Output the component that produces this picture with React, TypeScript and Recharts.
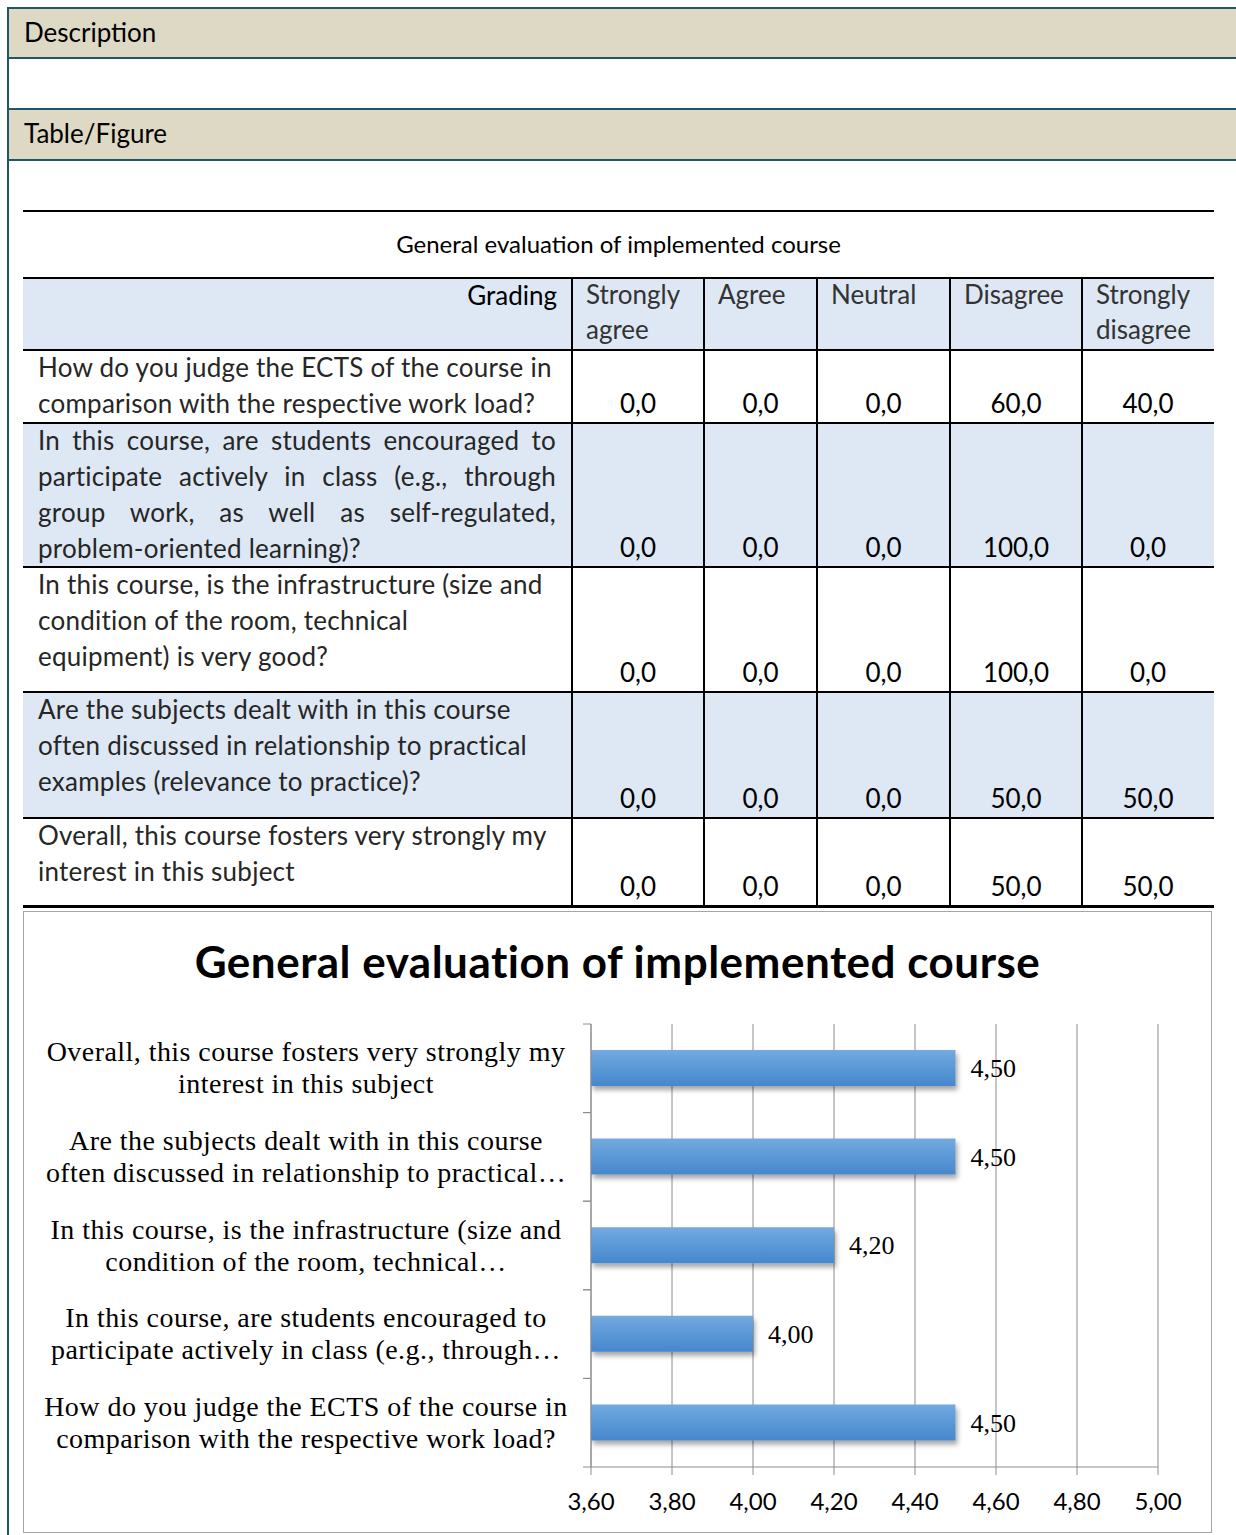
import React from "react";
import { BarChart, Bar, XAxis, YAxis, CartesianGrid, LabelList } from "recharts";

// table data
const gradingHeaders = [["Strongly", "agree"], ["Agree"], ["Neutral"], ["Disagree"], ["Strongly", "disagree"]];

const questionLines = [
  ["How do you judge the ECTS of the course in", "comparison with the respective work load?"],
  [
    "In this course, are students encouraged to",
    "participate actively in class (e.g., through",
    "group work, as well as self-regulated,",
    "problem-oriented learning)?",
  ],
  ["In this course, is the infrastructure (size and", "condition of the room, technical", "equipment) is very good?"],
  ["Are the subjects dealt with in this course", "often discussed in relationship to practical", "examples (relevance to practice)?"],
  ["Overall, this course fosters very strongly my", "interest in this subject"],
];

const stronglyAgree = [0, 0, 0, 0, 0];
const agree = [0, 0, 0, 0, 0];
const neutral = [0, 0, 0, 0, 0];
const disagree = [60, 100, 100, 50, 50];
const stronglyDisagree = [40, 0, 0, 50, 50];

// chart data
const chartLabels = [
  "How do you judge the ECTS of the course in\ncomparison with the respective work load?",
  "In this course, are students encouraged to\nparticipate actively in class (e.g., through…",
  "In this course, is the infrastructure (size and\ncondition of the room, technical…",
  "Are the subjects dealt with in this course\noften discussed in relationship to practical…",
  "Overall, this course fosters very strongly my\ninterest in this subject",
];
const meanScores = [4.5, 4.0, 4.2, 4.5, 4.5];
const scoreTicks = [3.6, 3.8, 4.0, 4.2, 4.4, 4.6, 4.8, 5.0];

const chartData = chartLabels.map((label, i) => ({ label, score: meanScores[i] }));
const valueColumns = [stronglyAgree, agree, neutral, disagree, stronglyDisagree];

const SANS = "Lato, 'Open Sans', sans-serif";
const SERIF = "'Liberation Serif', 'Times New Roman', serif";
const TEAL = "#1F5767";
const BEIGE = "#DDD9C4";
const BLUE = "#DDE8F4";
const GRID = "#8C8C8C";

const colEdges = [23, 572, 704, 817, 950, 1082, 1214];
const ruleYs = [277, 349, 422, 566, 691, 817, 905];

const comma = (v: number, d: number) => v.toFixed(d).replace(".", ",");

function QuestionTick({ x, y, payload }: any) {
  const lines = String(payload.value).split("\n");
  const lh = 32;
  const first = y - (lines.length * lh) / 2 + 25;
  const off = payload.offset || 0;
  return (
    <g>
      <line x1={x - 8} x2={x} y1={y - off} y2={y - off} stroke={GRID} />
      <line x1={x - 8} x2={x} y1={y + off} y2={y + off} stroke={GRID} />
      <text textAnchor="middle" fontFamily={SERIF} fontSize={28} letterSpacing={0.45} fill="#000">
        {lines.map((l, i) => (
          <tspan key={i} x={x - 285} y={first + i * lh}>
            {l}
          </tspan>
        ))}
      </text>
    </g>
  );
}

function abs(left: number, top: number, extra: React.CSSProperties = {}): React.CSSProperties {
  return { position: "absolute", left, top, ...extra };
}

export default function App() {
  const rows = questionLines.length;
  return (
    <div
      style={{
        position: "fixed",
        left: 0,
        top: 0,
        width: 1236,
        height: 1535,
        overflow: "hidden",
        background: "#fff",
        fontFamily: SANS,
        color: "#1a1a1a",
      }}
    >
      {/* document frame */}
      <div style={abs(9, 9, { width: 1300, height: 48, background: BEIGE })} />
      <div style={abs(9, 110, { width: 1300, height: 49, background: BEIGE })} />
      <div style={abs(7, 7, { width: 1300, height: 1600, border: `2px solid ${TEAL}` })} />
      <div style={abs(9, 57, { width: 1300, height: 2, background: TEAL })} />
      <div style={abs(9, 108, { width: 1300, height: 2, background: TEAL })} />
      <div style={abs(9, 159, { width: 1300, height: 2, background: TEAL })} />
      <div style={abs(24, 14, { fontSize: 26, lineHeight: "36px", color: "#000" })}>Description</div>
      <div style={abs(24, 115, { fontSize: 26, lineHeight: "36px", color: "#000" })}>Table/Figure</div>

      {/* table */}
      <div style={abs(23, 210, { width: 1191, height: 2, background: "#000" })} />
      <div style={abs(23, 226, { width: 1191, textAlign: "center", fontSize: 24, lineHeight: "36px", color: "#000" })}>
        General evaluation of implemented course
      </div>
      {ruleYs.slice(0, -1).map((y, i) =>
        i % 2 === 0 ? (
          <div key={"bg" + i} style={abs(23, y, { width: 1191, height: ruleYs[i + 1] - y, background: BLUE })} />
        ) : null
      )}
      {colEdges.slice(1, -1).map((x) => (
        <div key={"v" + x} style={abs(x - 1, ruleYs[0], { width: 2, height: ruleYs[rows + 1] - ruleYs[0], background: "#000" })} />
      ))}
      {ruleYs.map((y, i) => (
        <div key={"h" + i} style={abs(23, y, { width: 1191, height: i === ruleYs.length - 1 ? 3 : 2, background: "#000" })} />
      ))}
      <div style={abs(23, ruleYs[0], { width: 534, textAlign: "right", fontSize: 26, lineHeight: "36px", color: "#000" })}>
        Grading
      </div>
      {gradingHeaders.map((lines, c) => (
        <div key={"gh" + c} style={abs(colEdges[c + 1] + 14, ruleYs[0], { fontSize: 26, lineHeight: "35px", color: "#333" })}>
          {lines.map((l, k) => (
            <div key={k}>{l}</div>
          ))}
        </div>
      ))}
      {questionLines.map((lines, r) => (
        <div
          key={"q" + r}
          style={abs(38, ruleYs[r + 1], { width: 518, fontSize: 26, letterSpacing: 0.25, lineHeight: "36px", color: "#262626" })}
        >
          {lines.map((l, k) => (
            <div
              key={k}
              style={
                r === 1 && k < lines.length - 1
                  ? { textAlign: "justify", textAlignLast: "justify", whiteSpace: "nowrap" }
                  : { whiteSpace: "nowrap" }
              }
            >
              {l}
            </div>
          ))}
        </div>
      ))}
      {questionLines.map((_, r) =>
        valueColumns.map((col, c) => (
          <div
            key={"val" + r + c}
            style={abs(colEdges[c + 1], ruleYs[r + 2] - 37, {
              width: colEdges[c + 2] - colEdges[c + 1],
              textAlign: "center",
              fontSize: 26,
              lineHeight: "36px",
              color: "#000",
            })}
          >
            {comma(col[r], 1)}
          </div>
        ))
      )}

      {/* chart */}
      <div style={abs(23, 911, { width: 1189, height: 622, border: "1px solid #A6A6A6", boxSizing: "border-box" })} />
      <div
        style={abs(23, 936, {
          width: 1189,
          textAlign: "center",
          fontSize: 44,
          fontWeight: 700,
          letterSpacing: 0.5,
          lineHeight: "50px",
          color: "#000",
        })}
      >
        General evaluation of implemented course
      </div>
      <div style={abs(23, 911)}>
        <BarChart
          width={1189}
          height={622}
          data={chartData}
          layout="vertical"
          margin={{ top: 113, right: 54, left: 8, bottom: 26 }}
        >
          <defs>
            <linearGradient id="barFill" x1="0" y1="0" x2="0" y2="1">
              <stop offset="0%" stopColor="#74AADF" />
              <stop offset="55%" stopColor="#5897D6" />
              <stop offset="100%" stopColor="#4787CD" />
            </linearGradient>
            <filter id="barShadow" x="-5%" y="-20%" width="115%" height="160%">
              <feDropShadow dx="2" dy="4" stdDeviation="2.5" floodColor="#000" floodOpacity="0.35" />
            </filter>
          </defs>
          <CartesianGrid horizontal={false} stroke={GRID} />
          <XAxis
            type="number"
            domain={[3.6, 5]}
            ticks={scoreTicks}
            tickFormatter={(v: number) => comma(v, 2)}
            stroke={GRID}
            tickSize={8}
            tickMargin={18}
            height={40}
            tick={{ fill: "#000", fontSize: 24, fontFamily: SANS }}
            allowDataOverflow
          />
          <YAxis
            type="category"
            dataKey="label"
            reversed
            width={560}
            tickLine={false}
            tickSize={0}
            tickMargin={0}
            axisLine={{ stroke: GRID }}
            tick={<QuestionTick />}
            interval={0}
          />
          <Bar dataKey="score" barSize={36} fill="url(#barFill)" filter="url(#barShadow)" isAnimationActive={false}>
            <LabelList
              dataKey="score"
              position="right"
              offset={15}
              formatter={(v: any) => comma(Number(v), 2)}
              fill="#000"
              fontSize={26}
              fontFamily={SERIF}
            />
          </Bar>
        </BarChart>
      </div>
    </div>
  );
}
